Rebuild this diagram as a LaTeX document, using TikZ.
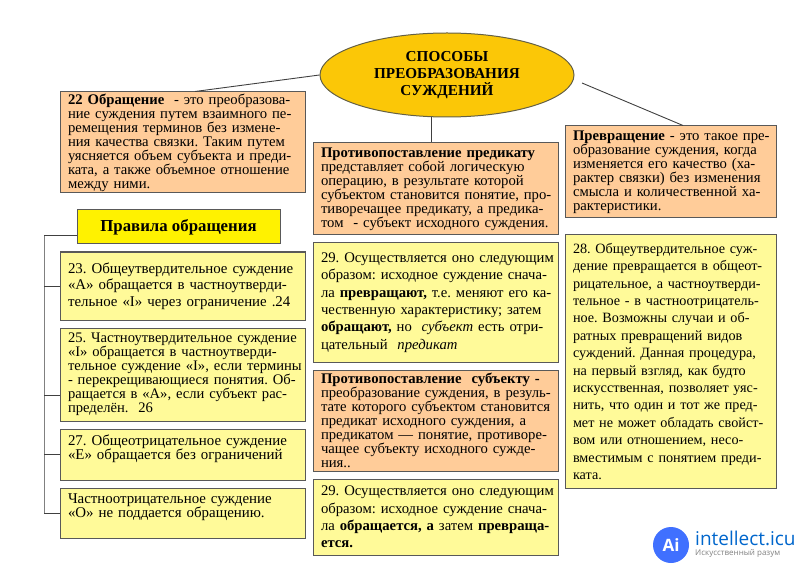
\documentclass[tikz,border=0pt]{standalone}
\usepackage{fontspec}
\setmainfont{Liberation Serif}
\usetikzlibrary{positioning,shapes.geometric}

\begin{document}
\frenchspacing
\begin{tikzpicture}[
  x=1pt, y=-1pt,
  box/.style={draw=black!65, line width=1pt, inner xsep=3pt, inner ysep=0pt, align=left,
              execute at begin node={\leftskip=5pt\relax}},
  pitch/.style={font=\fontsize{14.7}{#1}\selectfont},
  topic/.style={box, fill=orange!40!white, pitch=14},
  rulebox/.style={box, fill=yellow!40!white, pitch=14},
  wide/.style={rulebox, pitch=17.4},
  leftrule/.style={rulebox, font=\fontsize{14.9}{#1}\selectfont, inner xsep=1pt, text width=243pt,
                   execute at begin node={\leftskip=7pt\relax}},
  link/.style={draw=black!75, line width=0.9pt},
  spine/.style={draw=black!50, line width=1pt},
]
\useasboundingbox (0,0) rectangle (797,569);

% --- Title ellipse ---
\node[ellipse, draw=black!70!yellow, line width=1pt, fill=yellow!60!orange, inner sep=0pt,
      minimum width=254pt, minimum height=84pt, align=center,
      font=\fontsize{15.2}{16.6}\selectfont\bfseries] (method) at (447,75)
  {СПОСОБЫ\\ПРЕОБРАЗОВАНИЯ\\СУЖДЕНИЙ};

% --- Left column ---
\node[topic, text width=239pt, minimum height=101pt] (obr) at (182.5,142.5)
  {\textbf{22 Обращение}\ \ - это преобразова-\\ние суждения путем взаимного пе-\\ремещения терминов без измене-\\ния качества связки. Таким путем\\уясняется объем субъекта и преди-\\ката, а также объемное отношение\\между ними.};
\node[draw=black!65, line width=1pt, fill=yellow, minimum width=203pt, minimum height=34pt, align=center,
      font=\fontsize{16.8}{18}\selectfont\bfseries] (rules) at (178.5,227) {Правила обращения};
\node[leftrule=16.6, minimum height=68pt] (r23) at (182.5,286)
  {23. Общеутвердительное суждение\\«А» обращается в частноутверди-\\тельное «I» через ограничение .24};
\node[leftrule=14, font=\fontsize{14.6}{14}\selectfont, minimum height=93pt] (r25) at (182.5,374.5)
  {25. Частноутвердительное суждение\\«I» обращается в частноутверди-\\тельное суждение «I», если термины\\- перекрещивающиеся понятия. Об-\\ращается в «А», если субъект рас-\\пределён.\ \ 26};
\node[leftrule=14, minimum height=51pt] (r27) at (182.5,454.5)
  {27. Общеотрицательное суждение\\«Е» обращается без ограничений\\\mbox{}};
\node[leftrule=14, minimum height=50pt] (r0) at (182.5,513)
  {Частноотрицательное суждение\\«О» не поддается обращению.\\\mbox{}};

% --- Middle column ---
\node[topic, text width=239pt, minimum height=92pt] (pred) at (435.5,189)
  {\textbf{Противопоставление предикату}\\представляет собой логическую\\операцию, в результате которой\\субъектом становится понятие, про-\\тиворечащее предикату, а предика-\\том\ \ - субъект исходного суждения.};
\node[wide, text width=239pt, minimum height=119pt] (p29) at (435.5,302.5)
  {29. Осуществляется оно следующим\\образом: исходное суждение снача-\\ла \textbf{превращают,} т.е. меняют его ка-\\чественную характеристику; затем\\\textbf{обращают,} но\ \ \textit{субъект} есть отри-\\цательный\ \ \textit{предикат}};
\node[topic, text width=239pt, minimum height=101pt] (subj) at (435.5,420.5)
  {\textbf{Противопоставление\ \ субъекту -}\\преобразование суждения, в резуль-\\тате которого субъектом становится\\предикат исходного суждения, а\\предикатом — понятие, противоре-\\чащее субъекту исходного сужде-\\ния..};
\node[wide, text width=239pt, minimum height=76pt] (s29) at (435.5,517)
  {29. Осуществляется оно следующим\\образом: исходное суждение снача-\\ла \textbf{обращается, а} затем \textbf{превраща-}\\\textbf{ется.}};

% --- Right column ---
\node[topic, text width=205pt, minimum height=92pt] (turn) at (670.5,172)
  {\textbf{Превращение}\ - это такое пре-\\образование суждения, когда\\изменяется его качество (ха-\\рактер связки) без изменения\\смысла и количественной ха-\\рактеристики.};
\node[rulebox, font=\fontsize{14.2}{17.4}\selectfont, text width=205pt, minimum height=253pt] (t28) at (670.5,361.5)
  {28. Общеутвердительное суж-\\дение превращается в общеот-\\рицательное, а частноутверди-\\тельное - в частноотрицатель-\\ное. Возможны случаи и об-\\ратных превращений видов\\суждений. Данная процедура,\\на первый взгляд, как будто\\искусственная, позволяет уяс-\\нить, что один и тот же пред-\\мет не может обладать свойст-\\вом или отношением, несо-\\вместимым с понятием преди-\\ката.};

% --- Lines from the ellipse ---
\coordinate (gap) at (582,83);
\draw[link] (method.west) -- ([xshift=12.5pt]obr.north);
\draw[link] ([xshift=-4.5pt]pred.north) -- ([xshift=-4.5pt]pred.north |- method.south);
\draw[link] (gap) -- ([xshift=12.5pt]turn.north);

% --- Spine of the rules ---
\coordinate (jrules) at (44,235);
\coordinate (j23) at (44,286);
\coordinate (j25) at (44,395);
\coordinate (j27) at (44,454);
\coordinate (j0) at (44,513);
\draw[spine] (jrules) -- (j0);
\foreach \a/\b in {jrules/rules, j23/r23, j25/r25, j27/r27, j0/r0} {
  \draw[link] (\a) -- (\a -| \b.west);
}

% --- Mark in the corner ---
\node[circle, fill=blue!75!cyan!75!white, minimum size=36pt, inner sep=0pt, text=white,
      font=\fontspec{Open Sans}\fontsize{17}{17}\selectfont\bfseries] (logo) at (671,545) {Ai};
\node[anchor=west, inner sep=0pt, text=blue!50!cyan!80!black,
      font=\fontspec{Open Sans}\fontsize{19}{19}\selectfont] (brand) at (695,538) {intellect.icu};
\node[anchor=west, inner sep=0pt, text=black!50,
      font=\fontspec{Open Sans}\fontsize{8}{9}\selectfont] (slogan) at (695,553) {Искусственный разум};
\end{tikzpicture}
\end{document}
